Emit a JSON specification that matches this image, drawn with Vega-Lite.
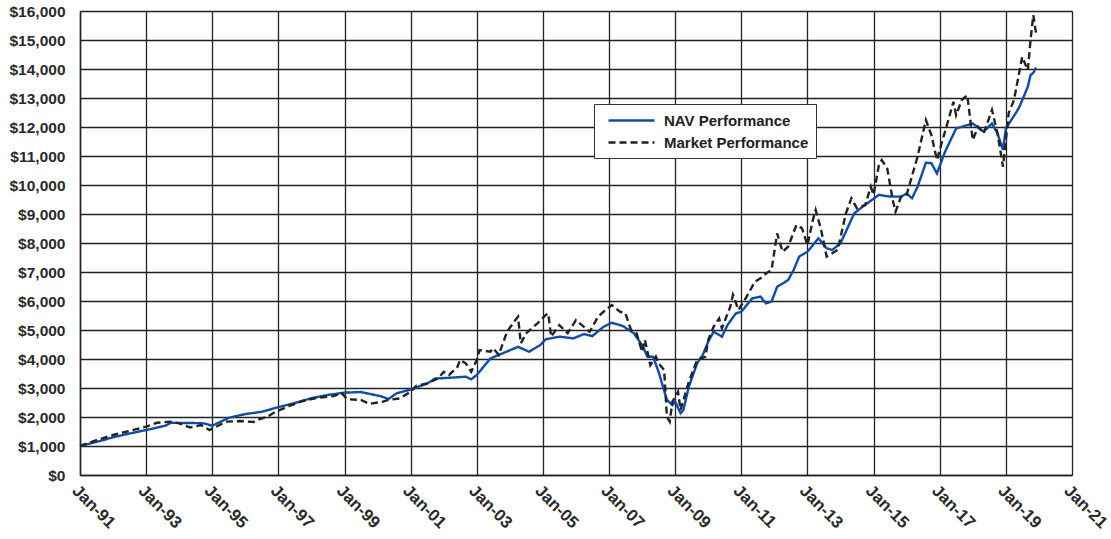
{
"$schema": "https://vega.github.io/schema/vega-lite/v6.json",
"width": 992, "height": 464,
"autosize": "none",
"padding": {"left": 80, "top": 11, "right": 39, "bottom": 64},
"background": "white",
"config": {"view": {"stroke": null}, "font": "Liberation Sans"},
"datasets": {
"nav": [
{"d":"1991-01-01","v":1000},{"d":"1991-07-01","v":1140},{"d":"1992-01-01","v":1300},{"d":"1992-07-01","v":1430},{"d":"1993-01-01","v":1550},{"d":"1993-08-01","v":1700},{"d":"1993-10-01","v":1800},{"d":"1994-07-01","v":1790},{"d":"1994-10-01","v":1780},{"d":"1995-01-01","v":1700},{"d":"1995-07-01","v":1970},{"d":"1996-01-01","v":2100},{"d":"1996-07-01","v":2180},{"d":"1997-01-01","v":2340},{"d":"1997-07-01","v":2480},{"d":"1998-01-01","v":2650},{"d":"1998-07-01","v":2760},{"d":"1999-01-01","v":2840},{"d":"1999-07-01","v":2860},{"d":"2000-02-01","v":2720},{"d":"2000-05-01","v":2620},{"d":"2000-08-01","v":2820},{"d":"2001-01-01","v":2950},{"d":"2001-07-01","v":3150},{"d":"2001-10-01","v":3330},{"d":"2002-01-01","v":3340},{"d":"2002-09-01","v":3390},{"d":"2002-11-01","v":3300},{"d":"2003-01-01","v":3450},{"d":"2003-06-01","v":4020},{"d":"2003-09-01","v":4140},{"d":"2004-04-01","v":4420},{"d":"2004-08-01","v":4250},{"d":"2004-12-01","v":4480},{"d":"2005-02-01","v":4680},{"d":"2005-07-01","v":4770},{"d":"2005-12-01","v":4710},{"d":"2006-04-01","v":4860},{"d":"2006-07-01","v":4790},{"d":"2006-11-01","v":5110},{"d":"2007-02-01","v":5250},{"d":"2007-06-01","v":5140},{"d":"2007-10-01","v":4890},{"d":"2008-01-01","v":4480},{"d":"2008-03-01","v":4080},{"d":"2008-05-01","v":4080},{"d":"2008-07-01","v":3560},{"d":"2008-10-01","v":2590},{"d":"2008-12-01","v":2410},{"d":"2009-01-01","v":2530},{"d":"2009-03-01","v":2130},{"d":"2009-04-01","v":2240},{"d":"2009-06-01","v":3050},{"d":"2009-09-01","v":3860},{"d":"2009-11-01","v":4140},{"d":"2010-01-01","v":4600},{"d":"2010-03-01","v":4940},{"d":"2010-06-01","v":4770},{"d":"2010-08-01","v":5170},{"d":"2010-11-01","v":5570},{"d":"2011-01-01","v":5630},{"d":"2011-05-01","v":6090},{"d":"2011-08-01","v":6150},{"d":"2011-10-01","v":5920},{"d":"2011-12-01","v":5980},{"d":"2012-02-01","v":6490},{"d":"2012-06-01","v":6720},{"d":"2012-08-01","v":7070},{"d":"2012-10-01","v":7530},{"d":"2013-01-01","v":7700},{"d":"2013-05-01","v":8160},{"d":"2013-08-01","v":7820},{"d":"2013-10-01","v":7760},{"d":"2014-01-01","v":7990},{"d":"2014-06-01","v":9020},{"d":"2014-09-01","v":9250},{"d":"2015-03-01","v":9660},{"d":"2015-07-01","v":9600},{"d":"2015-11-01","v":9600},{"d":"2016-01-01","v":9710},{"d":"2016-03-01","v":9540},{"d":"2016-05-01","v":9940},{"d":"2016-08-01","v":10770},{"d":"2016-10-01","v":10750},{"d":"2016-12-01","v":10400},{"d":"2017-03-01","v":11150},{"d":"2017-07-01","v":11950},{"d":"2018-01-01","v":12120},{"d":"2018-05-01","v":11840},{"d":"2018-08-01","v":12120},{"d":"2018-10-01","v":11780},{"d":"2018-12-01","v":11210},{"d":"2019-01-01","v":11950},{"d":"2019-05-01","v":12530},{"d":"2019-06-01","v":12700},{"d":"2019-09-01","v":13390},{"d":"2019-10-01","v":13790},{"d":"2019-11-01","v":13870},{"d":"2019-12-01","v":14050}
],
"mkt": [
{"d":"1991-01-01","v":1000},{"d":"1991-07-01","v":1200},{"d":"1992-01-01","v":1380},{"d":"1992-07-01","v":1520},{"d":"1993-01-01","v":1670},{"d":"1993-05-01","v":1800},{"d":"1993-10-01","v":1840},{"d":"1994-01-01","v":1780},{"d":"1994-05-01","v":1640},{"d":"1994-09-01","v":1720},{"d":"1994-12-01","v":1550},{"d":"1995-03-01","v":1690},{"d":"1995-06-01","v":1840},{"d":"1995-11-01","v":1860},{"d":"1996-04-01","v":1830},{"d":"1996-06-01","v":1920},{"d":"1996-09-01","v":2010},{"d":"1996-11-01","v":2130},{"d":"1997-02-01","v":2260},{"d":"1997-05-01","v":2380},{"d":"1997-09-01","v":2530},{"d":"1998-02-01","v":2640},{"d":"1998-05-01","v":2680},{"d":"1998-09-01","v":2720},{"d":"1998-12-01","v":2820},{"d":"1999-02-01","v":2610},{"d":"1999-07-01","v":2590},{"d":"1999-10-01","v":2450},{"d":"2000-03-01","v":2530},{"d":"2000-05-01","v":2590},{"d":"2000-09-01","v":2640},{"d":"2001-01-01","v":2870},{"d":"2001-03-01","v":3070},{"d":"2001-07-01","v":3160},{"d":"2001-11-01","v":3330},{"d":"2002-01-01","v":3560},{"d":"2002-03-01","v":3450},{"d":"2002-06-01","v":3730},{"d":"2002-07-01","v":3970},{"d":"2002-09-01","v":3850},{"d":"2002-11-01","v":3560},{"d":"2003-01-01","v":3970},{"d":"2003-02-01","v":4310},{"d":"2003-06-01","v":4250},{"d":"2003-07-01","v":4370},{"d":"2003-09-01","v":4140},{"d":"2003-12-01","v":4940},{"d":"2004-03-01","v":5340},{"d":"2004-04-01","v":5460},{"d":"2004-05-01","v":4540},{"d":"2004-07-01","v":4890},{"d":"2004-11-01","v":5230},{"d":"2005-02-01","v":5520},{"d":"2005-03-01","v":5570},{"d":"2005-04-01","v":4770},{"d":"2005-07-01","v":5170},{"d":"2005-10-01","v":4890},{"d":"2006-01-01","v":5340},{"d":"2006-06-01","v":4940},{"d":"2006-09-01","v":5460},{"d":"2006-11-01","v":5630},{"d":"2007-02-01","v":5860},{"d":"2007-05-01","v":5630},{"d":"2007-07-01","v":5570},{"d":"2007-09-01","v":5000},{"d":"2007-11-01","v":4890},{"d":"2008-01-01","v":4250},{"d":"2008-02-01","v":4660},{"d":"2008-04-01","v":3790},{"d":"2008-06-01","v":4080},{"d":"2008-07-01","v":3850},{"d":"2008-09-01","v":3620},{"d":"2008-10-01","v":2010},{"d":"2008-11-01","v":1840},{"d":"2008-12-01","v":2530},{"d":"2009-02-01","v":2870},{"d":"2009-03-01","v":2240},{"d":"2009-06-01","v":3220},{"d":"2009-09-01","v":3970},{"d":"2009-12-01","v":4080},{"d":"2010-01-01","v":4660},{"d":"2010-03-01","v":5110},{"d":"2010-05-01","v":5400},{"d":"2010-06-01","v":5060},{"d":"2010-09-01","v":5800},{"d":"2010-10-01","v":6210},{"d":"2010-12-01","v":5690},{"d":"2011-03-01","v":6150},{"d":"2011-06-01","v":6670},{"d":"2011-08-01","v":6780},{"d":"2011-10-01","v":6950},{"d":"2011-12-01","v":7070},{"d":"2012-02-01","v":8330},{"d":"2012-04-01","v":7700},{"d":"2012-06-01","v":7870},{"d":"2012-09-01","v":8620},{"d":"2012-11-01","v":8510},{"d":"2013-01-01","v":7930},{"d":"2013-03-01","v":8790},{"d":"2013-04-01","v":9140},{"d":"2013-06-01","v":8450},{"d":"2013-08-01","v":7530},{"d":"2013-12-01","v":7760},{"d":"2014-03-01","v":9020},{"d":"2014-05-01","v":9540},{"d":"2014-07-01","v":9200},{"d":"2014-10-01","v":9310},{"d":"2014-12-01","v":9940},{"d":"2015-01-01","v":9660},{"d":"2015-03-01","v":10690},{"d":"2015-04-01","v":10860},{"d":"2015-06-01","v":10570},{"d":"2015-08-01","v":9480},{"d":"2015-09-01","v":9080},{"d":"2015-11-01","v":9600},{"d":"2016-01-01","v":9660},{"d":"2016-05-01","v":10980},{"d":"2016-08-01","v":12240},{"d":"2016-10-01","v":11720},{"d":"2016-12-01","v":10860},{"d":"2017-02-01","v":11550},{"d":"2017-04-01","v":12180},{"d":"2017-06-01","v":12870},{"d":"2017-07-01","v":12410},{"d":"2017-09-01","v":12930},{"d":"2017-11-01","v":13100},{"d":"2018-01-01","v":11550},{"d":"2018-03-01","v":12010},{"d":"2018-05-01","v":11780},{"d":"2018-08-01","v":12590},{"d":"2018-10-01","v":11780},{"d":"2018-12-01","v":10630},{"d":"2019-02-01","v":12470},{"d":"2019-04-01","v":12930},{"d":"2019-07-01","v":14420},{"d":"2019-09-01","v":13960},{"d":"2019-10-01","v":15000},{"d":"2019-11-01","v":15860},{"d":"2019-12-01","v":15230}
]
},
"encoding": {
"x": {"field": "d", "type": "temporal",
 "scale": {"type": "utc", "domain": [{"year": 1991, "month": 1, "date": 1, "utc": true}, {"year": 2021, "month": 1, "date": 1, "utc": true}]},
 "axis": {"title": null, "format": "%b-%y", "labelAngle": 45, "labelAlign": "left", "labelBaseline": "top", "labelFontSize": 16.8, "labelFontWeight": "bold", "labelColor": "#2a2a2a", "labelPadding": 7, "labelOverlap": false, "labelFlush": false, "labelBound": false, "ticks": false, "grid": true, "gridColor": "#222", "gridWidth": 1.3, "gridOpacity": 1, "domainColor": "#222", "domainWidth": 1.5,
  "values": [{"year": 1991, "month": 1, "date": 1, "utc": true},{"year": 1993, "month": 1, "date": 1, "utc": true},{"year": 1995, "month": 1, "date": 1, "utc": true},{"year": 1997, "month": 1, "date": 1, "utc": true},{"year": 1999, "month": 1, "date": 1, "utc": true},{"year": 2001, "month": 1, "date": 1, "utc": true},{"year": 2003, "month": 1, "date": 1, "utc": true},{"year": 2005, "month": 1, "date": 1, "utc": true},{"year": 2007, "month": 1, "date": 1, "utc": true},{"year": 2009, "month": 1, "date": 1, "utc": true},{"year": 2011, "month": 1, "date": 1, "utc": true},{"year": 2013, "month": 1, "date": 1, "utc": true},{"year": 2015, "month": 1, "date": 1, "utc": true},{"year": 2017, "month": 1, "date": 1, "utc": true},{"year": 2019, "month": 1, "date": 1, "utc": true},{"year": 2021, "month": 1, "date": 1, "utc": true}]}},
"y": {"field": "v", "type": "quantitative", "scale": {"domain": [0, 16000]},
   "axis": {"title": null, "format": "$,.0f", "values": [0,1000,2000,3000,4000,5000,6000,7000,8000,9000,10000,11000,12000,13000,14000,15000,16000], "labelOverlap": false, "labelFontSize": 15.5, "labelFontWeight": "bold", "labelColor": "#2a2a2a", "labelPadding": 15, "ticks": false, "grid": true, "gridColor": "#222", "gridWidth": 1.3, "gridOpacity": 1, "domainColor": "#222", "domainWidth": 1.5}}
},
"layer": [
{"data": {"values": [{"d": "2019-01-01"}]}, "mark": {"type": "rule", "color": "#222", "strokeWidth": 2.4}, "encoding": {"y": {"datum": 0}, "y2": {"datum": 16000}}},
{"data": {"name": "nav"}, "mark": {"type": "line", "strokeWidth": 2.4},
 "encoding": {
  "color": {"datum": "NAV Performance", "type": "nominal", "scale": {"domain": ["NAV Performance", "Market Performance"], "range": ["#0a4cb0", "#222222"]},
   "legend": {"orient": "none", "legendX": 514, "legendY": 93, "title": null, "fillColor": "white", "strokeColor": "#333", "padding": 7, "labelFontSize": 15, "labelFontWeight": "bold", "labelColor": "#222", "symbolType": "M-0.25,0H5.5", "symbolSize": 256, "symbolStrokeWidth": 2.5, "rowPadding": 4, "labelOffset": 44}},
  "strokeDash": {"datum": "NAV Performance", "type": "nominal", "scale": {"domain": ["NAV Performance", "Market Performance"], "range": [[1, 0], [7, 4]]},
   "legend": {"orient": "none", "legendX": 514, "legendY": 93, "title": null, "fillColor": "white", "strokeColor": "#333", "padding": 7, "labelFontSize": 15, "labelFontWeight": "bold", "labelColor": "#222", "symbolType": "M-0.25,0H5.5", "symbolSize": 256, "symbolStrokeWidth": 2.5, "rowPadding": 4, "labelOffset": 44}}
 }},
{"data": {"name": "mkt"}, "mark": {"type": "line", "strokeWidth": 2.4},
 "encoding": {
  "color": {"datum": "Market Performance", "type": "nominal"},
  "strokeDash": {"datum": "Market Performance", "type": "nominal"}
 }}
]
}
